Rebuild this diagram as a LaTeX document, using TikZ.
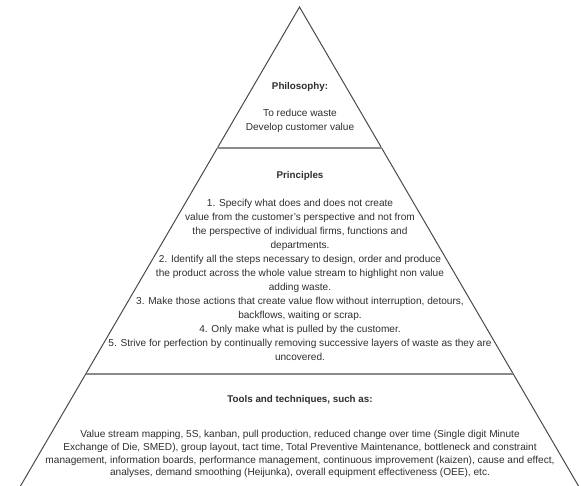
\documentclass[tikz,border=0pt]{standalone}
\usepackage{fontspec}
\setmainfont{Liberation Sans}
\usetikzlibrary{calc}
\definecolor{inkgray}{HTML}{2E2E2E}
\definecolor{edgegray}{HTML}{4A4A4A}
\definecolor{sepgray}{HTML}{8A8A8A}
\begin{document}
\begin{tikzpicture}[x=1pt,y=-1pt,
  edge/.style={draw=edgegray,line width=1pt},
  separator/.style={draw=sepgray,line width=2pt},
  heading/.style={font=\fontsize{9.8}{14}\selectfont\bfseries,text=inkgray,inner sep=0pt},
  body/.style={font=\fontsize{10.1}{14}\selectfont,text=inkgray,align=center,inner sep=0pt},
  tightbody/.style={body,font=\fontsize{10.1}{12.8}\selectfont}]
  \useasboundingbox (0,0) rectangle (581,486);
  % outline of the pyramid
  \coordinate (apex) at (299.5,7);
  \coordinate (bl) at (20.5,486);
  \coordinate (br) at (578.5,486);
  \draw[edge] (bl) -- (apex) -- (br);
  % layer boundaries
  \coordinate (s1l) at ($(apex)!0.2944!(bl)$);
  \coordinate (s1r) at ($(apex)!0.2944!(br)$);
  \coordinate (s2l) at ($(apex)!0.7662!(bl)$);
  \coordinate (s2r) at ($(apex)!0.7662!(br)$);
  \draw[separator] (s1l) -- (s1r);
  \draw[separator] (s2l) -- (s2r);
  % top layer
  \node[heading] (philh) at (300,87) {Philosophy:};
  \node[body,anchor=north] (philb) at (300,109) {To reduce waste\\Develop customer value};
  % middle layer
  \node[heading] (prinh) at (300,176) {Principles};
  \node[body,anchor=north] (prinb) at (300,199) {1. Specify what does and does not create\\
value from the customer's perspective and not from\\
the perspective of individual firms, functions and\\
departments.\\
2. Identify all the steps necessary to design, order and produce\\
the product across the whole value stream to highlight non value\\
adding waste.\\
3. Make those actions that create value flow without interruption, detours,\\
backflows, waiting or scrap.\\
4. Only make what is pulled by the customer.\\
5. Strive for perfection by continually removing successive layers of waste as they are\\
uncovered.};
  % bottom layer
  \node[heading] (toolh) at (300,400) {Tools and techniques, such as:};
  \node[tightbody,anchor=north] (toolb) at (300,430) {Value stream mapping, 5S, kanban, pull production, reduced change over time (Single digit Minute\\
Exchange of Die, SMED), group layout, tact time, Total Preventive Maintenance, bottleneck and constraint\\
management, information boards, performance management, continuous improvement (kaizen), cause and effect,\\
analyses, demand smoothing (Heijunka), overall equipment effectiveness (OEE), etc.};
\end{tikzpicture}
\end{document}
